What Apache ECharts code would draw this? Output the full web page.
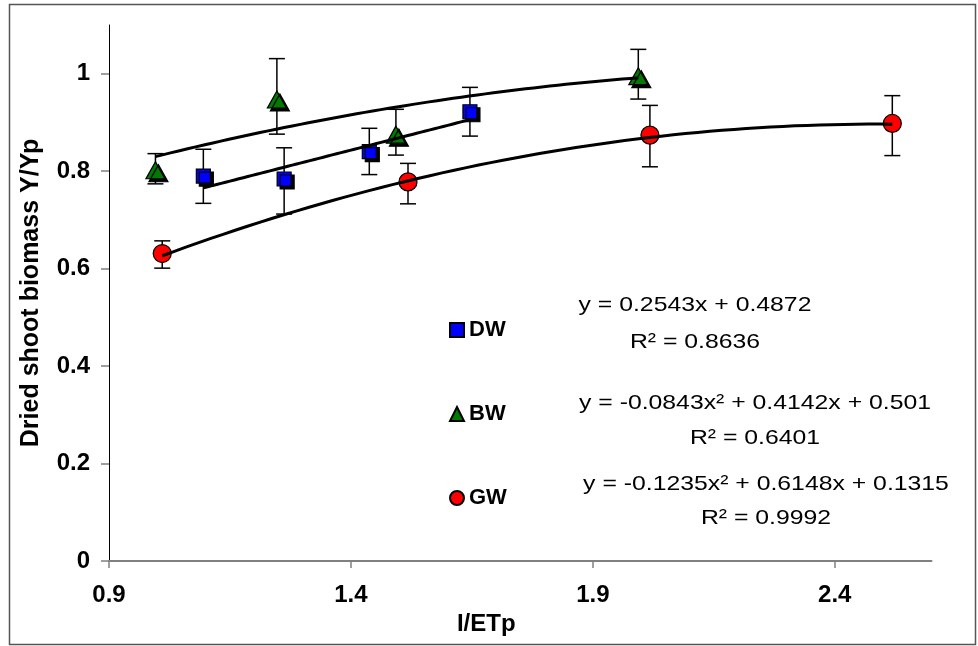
<!DOCTYPE html>
<html>
<head>
<meta charset="utf-8">
<script src="https://cdn.jsdelivr.net/npm/echarts@6/dist/echarts.min.js"></script>
<style>
  html, body { margin: 0; padding: 0; background: #fff; }
  #chart { width: 978px; height: 646px; }
</style>
</head>
<body>
<div id="chart"></div>
<script>
// Axis tick positions
const xTicks = [0.9, 1.4, 1.9, 2.4];
const yTicks = [0, 0.2, 0.4, 0.6, 0.8, 1];

// DW: relative dried shoot biomass vs I/ETp, with error bar limits
const dwX  = [1.095, 1.262, 1.438, 1.646];
const dwY  = [0.790, 0.784, 0.840, 0.922];
const dwHi = [0.845, 0.848, 0.888, 0.972];
const dwLo = [0.734, 0.712, 0.793, 0.872];

// BW
const bwX  = [0.996, 1.247, 1.493, 1.994];
const bwY  = [0.802, 0.947, 0.875, 0.995];
const bwHi = [0.836, 1.031, 0.927, 1.050];
const bwLo = [0.774, 0.876, 0.833, 0.948];

// GW
const gwX  = [1.010, 1.518, 2.018, 2.519];
const gwY  = [0.631, 0.778, 0.874, 0.898];
const gwHi = [0.657, 0.816, 0.935, 0.955];
const gwLo = [0.601, 0.733, 0.809, 0.832];

// Trend-line coefficients [a2, a1, a0] for y = a2*x^2 + a1*x + a0
const dwFit = [0, 0.2543, 0.4872];
const bwFit = [-0.0843, 0.4142, 0.501];
const gwFit = [-0.1235, 0.6148, 0.1315];

// Trend-line equation labels
const dwEq = ['y = 0.2543x + 0.4872', 'R\u00b2 = 0.8636'];
const bwEq = ['y = -0.0843x\u00b2 + 0.4142x + 0.501', 'R\u00b2 = 0.6401'];
const gwEq = ['y = -0.1235x\u00b2 + 0.6148x + 0.1315', 'R\u00b2 = 0.9992'];

const FONT = '"Liberation Sans", Arial, sans-serif';

function trendPoints(fit, xs) {
  const x0 = Math.min(...xs), x1 = Math.max(...xs);
  const n = 60, pts = [];
  for (let i = 0; i <= n; i++) {
    const x = x0 + (x1 - x0) * i / n;
    pts.push([x, fit[0] * x * x + fit[1] * x + fit[2]]);
  }
  return pts;
}

function errorSeries(name, xs, lo, hi) {
  return {
    type: 'custom',
    name: name + ' error',
    silent: true,
    z: 2,
    data: xs.map((x, i) => [x, lo[i], hi[i]]),
    encode: { x: 0, y: [1, 2] },
    renderItem(params, api) {
      const top = api.coord([api.value(0), api.value(2)]);
      const bot = api.coord([api.value(0), api.value(1)]);
      const w = 8;
      const st = { stroke: '#000', lineWidth: 1.5 };
      return {
        type: 'group',
        children: [
          { type: 'line', shape: { x1: top[0], y1: top[1], x2: bot[0], y2: bot[1] }, style: st },
          { type: 'line', shape: { x1: top[0] - w, y1: top[1], x2: top[0] + w, y2: top[1] }, style: st },
          { type: 'line', shape: { x1: bot[0] - w, y1: bot[1], x2: bot[0] + w, y2: bot[1] }, style: st }
        ]
      };
    }
  };
}

function pointSeries(name, xs, ys, symbol, size, color, shadow) {
  return {
    type: 'scatter',
    name: name,
    z: 3,
    symbol: symbol,
    symbolSize: size,
    data: xs.map((x, i) => [x, ys[i]]),
    itemStyle: {
      color: color,
      borderColor: '#000',
      borderWidth: 1.2,
      opacity: 1,
      shadowColor: shadow ? '#000' : 'rgba(0,0,0,0)',
      shadowOffsetX: shadow ? 3 : 0,
      shadowOffsetY: shadow ? 3 : 0,
      shadowBlur: 0
    },
    emphasis: { disabled: true }
  };
}

function trendSeries(name, fit, xs) {
  return {
    type: 'line',
    name: name + ' trend',
    z: 4,
    silent: true,
    showSymbol: false,
    data: trendPoints(fit, xs),
    lineStyle: { color: '#000', width: 3 },
    emphasis: { disabled: true }
  };
}

function eqText(lines, cx, y1, y2) {
  const common = { font: '21px ' + FONT, fill: '#000', align: 'center', verticalAlign: 'middle' };
  return [
    { type: 'text', x: cx, y: y1, scaleX: 1.18, style: Object.assign({ text: lines[0] }, common) },
    { type: 'text', x: cx, y: y2, scaleX: 1.18, style: Object.assign({ text: lines[1] }, common) }
  ];
}

const chart = echarts.init(document.getElementById('chart'), null, { renderer: 'canvas' });

chart.setOption({
  animation: false,
  backgroundColor: '#fff',
  grid: { left: 109, right: 46.5, top: 25, bottom: 85, containLabel: false },
  xAxis: {
    type: 'value',
    min: 0.9,
    max: 2.6,
    name: 'I/ETp',
    nameLocation: 'middle',
    nameGap: 50,
    nameTextStyle: { fontFamily: FONT, fontWeight: 'bold', fontSize: 24, color: '#000', padding: [0, 68, 0, 0] },
    axisLine: { lineStyle: { color: '#808080', width: 2 } },
    axisTick: { length: 7, lineStyle: { color: '#808080', width: 1.5 }, customValues: xTicks },
    axisLabel: {
      customValues: xTicks,
      margin: 22,
      fontFamily: FONT, fontWeight: 'bold', fontSize: 24, color: '#000',
      formatter: v => v.toFixed(1)
    },
    splitLine: { show: false }
  },
  yAxis: {
    type: 'value',
    min: 0,
    max: 1.1,
    name: 'Dried shoot biomass Y/Yp',
    nameLocation: 'middle',
    nameGap: 65,
    nameTextStyle: { fontFamily: FONT, fontWeight: 'bold', fontSize: 25, color: '#000' },
    axisLine: { show: true, lineStyle: { color: '#000', width: 1 } },
    axisTick: { show: true, length: 8, lineStyle: { color: '#808080', width: 1.5 }, customValues: yTicks },
    axisLabel: {
      customValues: yTicks,
      margin: 19,
      fontFamily: FONT, fontWeight: 'bold', fontSize: 24, color: '#000',
      formatter: v => (v === 0 ? '0' : v === 1 ? '1' : v.toFixed(1))
    },
    splitLine: { show: false }
  },
  legend: {
    data: ['DW', 'BW', 'GW'],
    orient: 'vertical',
    left: 444,
    top: 314,
    itemWidth: 14,
    itemHeight: 14,
    itemGap: 62,
    selectedMode: false,
    textStyle: { fontFamily: FONT, fontWeight: 'bold', fontSize: 22, color: '#000' },
    itemStyle: { shadowBlur: 0, shadowOffsetX: 0, shadowOffsetY: 0, shadowColor: 'rgba(0,0,0,0)' }
  },
  series: [
    errorSeries('DW', dwX, dwLo, dwHi),
    errorSeries('BW', bwX, bwLo, bwHi),
    errorSeries('GW', gwX, gwLo, gwHi),
    pointSeries('DW', dwX, dwY, 'rect', 14, '#0000FF', true),
    pointSeries('BW', bwX, bwY, 'triangle', [19, 17], '#007A00', true),
    pointSeries('GW', gwX, gwY, 'circle', 18, '#FF0000', false),
    trendSeries('DW', dwFit, dwX),
    trendSeries('BW', bwFit, bwX),
    trendSeries('GW', gwFit, gwX)
  ],
  graphic: [
    {
      type: 'rect',
      silent: true,
      shape: { x: 9.5, y: 4.5, width: 966, height: 640 },
      style: { fill: 'none', stroke: '#555', lineWidth: 1.5 }
    }
  ].concat(
    eqText(dwEq, 695, 305, 342),
    eqText(bwEq, 755, 403, 438),
    eqText(gwEq, 766, 484, 518)
  )
});
</script>
</body>
</html>
